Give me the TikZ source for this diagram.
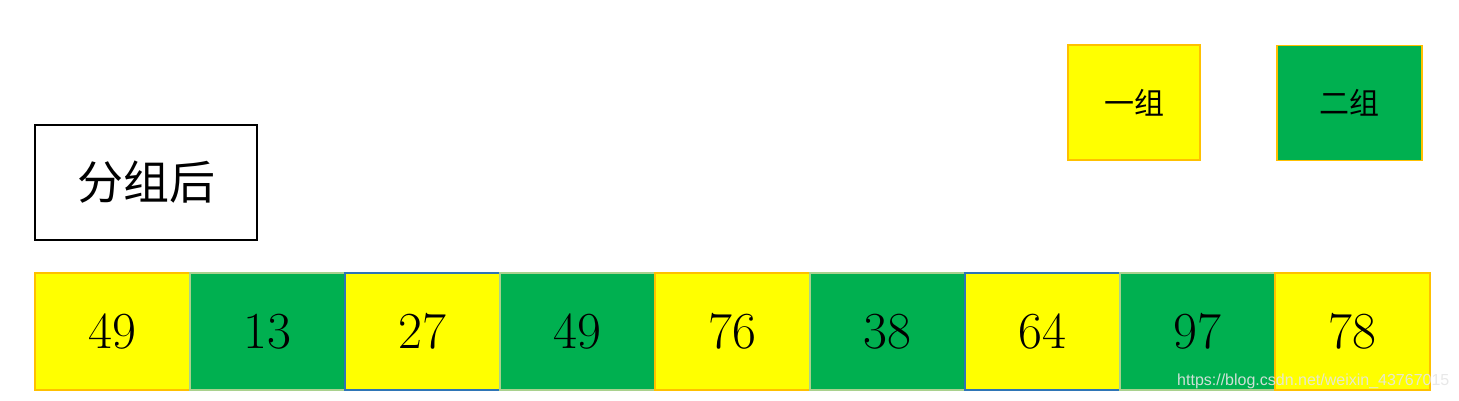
\documentclass[tikz,border=0pt]{standalone}
\usepackage{fontspec}
\newfontfamily\cjk{Noto Sans CJK SC}
\newfontfamily\markfont{Liberation Sans}
\definecolor{groupyellow}{RGB}{255,255,0}
\definecolor{groupgreen}{RGB}{0,176,80}
\definecolor{edgeorange}{RGB}{255,192,0}
\definecolor{edgegreen}{RGB}{169,209,142}
\definecolor{edgeblue}{RGB}{46,117,182}
\usetikzlibrary{positioning}
\tikzset{
	cell/.style={
		rectangle,
		line width=1.5pt,
		minimum width=155pt,
		minimum height=117pt,
		inner sep=0pt,
		font=\fontsize{52}{60}\selectfont
	},
	onecell/.style={
		cell,
		fill=groupyellow,
		draw=edgeorange
	},
	twocell/.style={
		cell,
		fill=groupgreen,
		draw=edgegreen
	},
	bluecell/.style={
		cell,
		fill=groupyellow,
		draw=edgeblue
	},
	titlebox/.style={
		rectangle,
		line width=1.5pt,
		draw=black,
		minimum width=222pt,
		minimum height=115pt,
		font=\cjk\fontsize{46}{50}\selectfont
	},
	legend/.style={
		rectangle,
		line width=1.5pt,
		draw=edgeorange,
		minimum height=115pt,
		font=\cjk\fontsize{30}{34}\selectfont
	},
}

\begin{document}
\begin{tikzpicture}[x=1pt,y=1pt,node distance=155pt,on grid]
\useasboundingbox (0,0) rectangle (1459,-401);
\node[titlebox] (after) at (146,-182.5) {分组后};
\node[legend,fill=groupyellow,minimum width=132pt] (groupone) at (1134,-102.5) {一组};
\node[legend,fill=groupgreen,minimum width=145pt] (grouptwo) at (1349.5,-103) {二组};
% row after grouping
\node[onecell] (c1) at (112.5,-331.5) {49};
\node[twocell] (c2) [right=of c1] {13};
\node[bluecell] (c3) [right=of c2] {27};
\node[twocell] (c4) [right=of c3] {49};
\node[onecell] (c5) [right=of c4] {76};
\node[twocell] (c6) [right=of c5] {38};
\node[bluecell] (c7) [right=of c6] {64};
\node[twocell] (c8) [right=of c7] {97};
\node[onecell] (c9) [right=of c8] {78};
\node[anchor=south west,inner sep=0pt,text=black!10,text opacity=0.9,
  font=\markfont\fontsize{16}{16}\selectfont] (mark) at (1177,-389) {https://blog.csdn.net/weixin\_43767015};
\end{tikzpicture}
\end{document}
